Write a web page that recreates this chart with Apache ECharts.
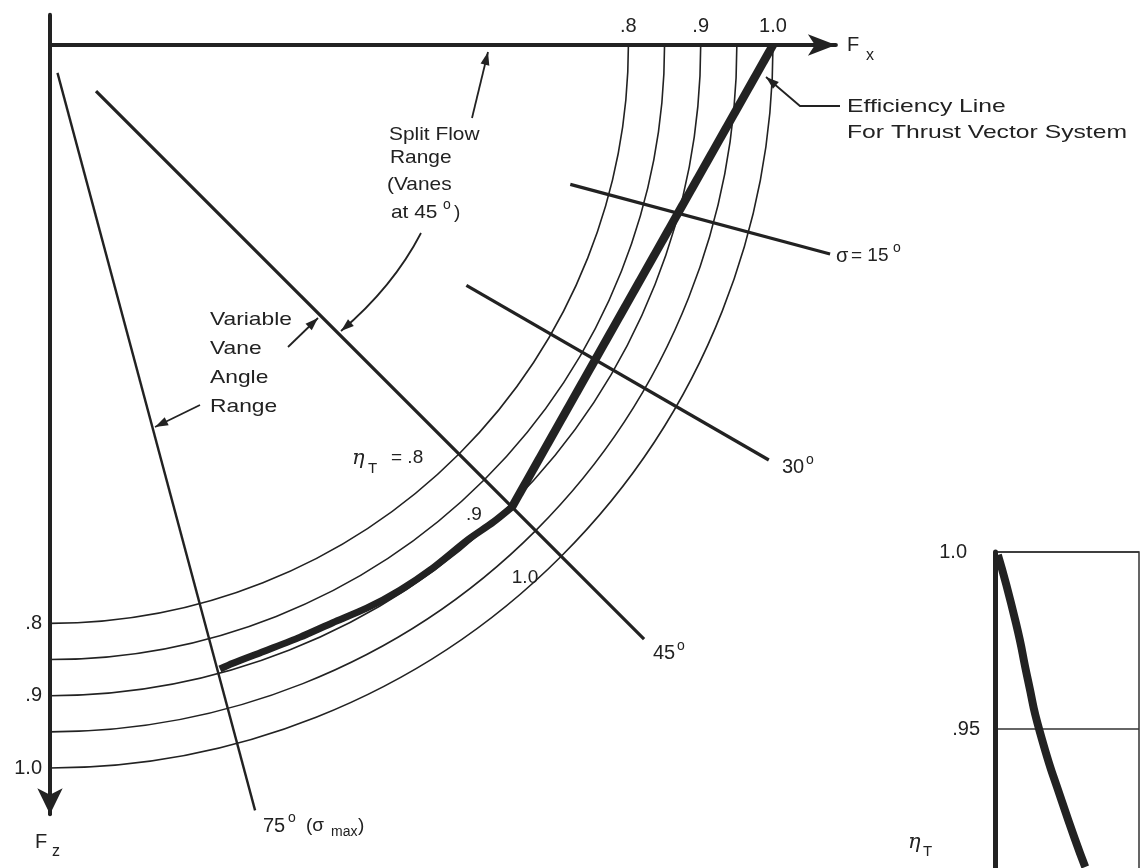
<!DOCTYPE html>
<html>
<head>
<meta charset="utf-8">
<script src="https://cdn.jsdelivr.net/npm/echarts@6/dist/echarts.min.js"></script>
<style>html,body{margin:0;padding:0;background:#fff}#c{width:1140px;height:868px}</style>
</head>
<body>
<div id="c"></div>
<script>
// ---------- data ----------
const etaLevels = [0.80, 0.85, 0.90, 0.95, 1.00];          // iso-efficiency arcs
const axisTickValues = [0.8, 0.9, 1.0];                    // labelled values on Fx and Fz
const sigmaAngles = [15, 30, 45, 75];                      // vane deflection lines (deg)
const sigmaLineStart = [0.745, 0.665, 0.09, 0.04];         // radial extent of each line
const sigmaLineEnd = [1.117, 1.148, 1.162, 1.096];
const splitFx = [1.00, 0.639];                             // split flow range (vanes at 45 deg)
const splitFz = [0.00, 0.639];
const vaneFx = [0.639, 0.613, 0.577, 0.530, 0.484, 0.438, 0.391, 0.346, 0.300, 0.253, 0.235]; // variable vane angle range
const vaneFz = [0.639, 0.660, 0.685, 0.723, 0.754, 0.779, 0.799, 0.819, 0.837, 0.855, 0.863];
const insetSigma = [0.6, 4.35, 6.9, 9.3, 13.9, 18.8];      // inset curve
const insetEta = [0.9992, 0.980, 0.9636, 0.9494, 0.9297, 0.911];

// ---------- layout ----------
const S = 723, OX = 50, OY = 45;
const xExt = -0.052, xMax = 1.087, yExt = -0.042, yMax = 1.064;
const INK = '#222';
const FONT = '"Liberation Sans", Arial, sans-serif';
const SERIF = '"DejaVu Serif", serif';

const chart = echarts.init(document.getElementById('c'), null, {renderer: 'canvas'});

function zip(a, b) { return a.map((v, i) => [v, b[i]]); }
function fmtTick(v) { return Math.abs(v - 1) < 1e-9 ? '1.0' : '.' + String(Math.round(v * 100)).replace(/0$/, ''); }

function T(text, x, y, o) {
  o = o || {};
  return {
    type: 'text', x: x, y: y, scaleX: o.sx || 1, z: 100,
    style: {
      text: text, fill: INK, fontSize: o.fs || 19, fontFamily: o.ff || FONT,
      fontStyle: o.it ? 'italic' : 'normal', fontWeight: o.fw || 'normal',
      align: o.align || 'left', verticalAlign: 'middle',
      textAlign: o.align || 'left', textVerticalAlign: 'middle'
    }
  };
}
function head(px, py, ex, ey) {
  const dx = ex - px, dy = ey - py, L = Math.hypot(dx, dy), ux = dx / L, uy = dy / L;
  const len = 13, w = 4.5, bx = ex - ux * len, by = ey - uy * len;
  return { type: 'polygon', z: 100, shape: { points: [[ex, ey], [bx - uy * w, by + ux * w], [bx + uy * w, by - ux * w]] }, style: { fill: INK } };
}
function arrow(pts) {
  const n = pts.length;
  return [
    { type: 'polyline', z: 100, shape: { points: pts }, style: { stroke: INK, lineWidth: 1.8, fill: null } },
    head(pts[n - 2][0], pts[n - 2][1], pts[n - 1][0], pts[n - 1][1])
  ];
}
function curvedArrow(x1, y1, cx, cy, x2, y2) {
  return [
    { type: 'bezierCurve', z: 100, shape: { x1: x1, y1: y1, cpx1: cx, cpy1: cy, x2: x2, y2: y2 }, style: { stroke: INK, lineWidth: 1.8, fill: null } },
    head(cx, cy, x2, y2)
  ];
}

const radialSeries = sigmaAngles.map((a, i) => {
  const r = a * Math.PI / 180;
  return {
    type: 'line', name: 'sigma ' + a, xAxisIndex: 0, yAxisIndex: 0, symbol: 'none', clip: false, z: 3,
    lineStyle: { color: INK, width: a === 75 ? 2.4 : 3.2 },
    data: [[sigmaLineStart[i] * Math.cos(r), sigmaLineStart[i] * Math.sin(r)],
           [sigmaLineEnd[i] * Math.cos(r), sigmaLineEnd[i] * Math.sin(r)]]
  };
});

const graphics = [].concat(
  // axis names
  T('F', 847, 45, { fs: 20 }), T('x', 866, 56, { fs: 16 }),
  T('F', 35, 842, { fs: 20 }), T('z', 52, 852, { fs: 16 }),
  // efficiency line note
  T('Efficiency Line', 847, 107, { sx: 1.3 }),
  T('For Thrust Vector System', 847, 133, { sx: 1.3 }),
  arrow([[840, 106], [800, 106], [766, 77]]),
  // split flow note
  T('Split Flow', 389, 135, { sx: 1.1 }),
  T('Range', 390, 158, { sx: 1.1 }),
  T('(Vanes', 387, 185, { sx: 1.1 }),
  T('at 45', 391, 213, { sx: 1.1 }), T('o', 443, 205, { fs: 14 }), T(')', 454, 213),
  arrow([[472, 118], [488, 52]]),
  curvedArrow(421, 233, 393, 287, 341, 331),
  // variable vane note
  T('Variable', 210, 320, { sx: 1.2 }),
  T('Vane', 210, 349, { sx: 1.2 }),
  T('Angle', 210, 378, { sx: 1.2 }),
  T('Range', 210, 407, { sx: 1.2 }),
  arrow([[288, 347], [318, 318]]),
  arrow([[200, 405], [155, 427]]),
  // arc labels along 45 deg line
  T('\u03B7', 352, 459, { ff: SERIF, it: true, fs: 21 }), T('T', 368, 469, { fs: 15 }), T('= .8', 391, 458),
  T('.9', 474, 515, { align: 'center' }),
  T('1.0', 525, 578, { align: 'center' }),
  // sigma labels
  T('\u03C3', 836, 256, { fs: 20 }), T('= 15', 851, 256), T('o', 893, 248, { fs: 14 }),
  T('30', 782, 467, { fs: 20 }), T('o', 806, 460, { fs: 14 }),
  T('45', 653, 653, { fs: 20 }), T('o', 677, 646, { fs: 14 }),
  T('75', 263, 826, { fs: 20 }), T('o', 288, 818, { fs: 14 }),
  T('(\u03C3', 306, 826, { fs: 19 }), T('max', 331, 832, { fs: 14 }), T(')', 358, 826, { fs: 19 }),
  // inset axis name
  T('\u03B7', 908, 843, { ff: SERIF, it: true, fs: 21 }), T('T', 923, 852, { fs: 15 })
);

const option = {
  animation: false,
  backgroundColor: '#fff',
  grid: [
    { left: OX, top: OY, width: xMax * S, height: yMax * S, show: false, outerBoundsMode: 'none', containLabel: false },
    { left: 995, top: 552, width: 144, height: 0.15 * 3540, show: true, borderColor: '#333', borderWidth: 1.5,
      backgroundColor: 'transparent', outerBoundsMode: 'none', containLabel: false }
  ],
  xAxis: [
    { type: 'value', gridIndex: 0, min: 0, max: xMax, position: 'top',
      axisLine: { onZero: false, symbol: ['none', 'arrow'], symbolSize: [16, 28], lineStyle: { color: INK, width: 4 } },
      axisTick: { show: false }, splitLine: { show: false },
      axisLabel: { customValues: axisTickValues, formatter: fmtTick, color: INK, fontSize: 20, fontFamily: FONT, margin: 9 } },
    { type: 'value', gridIndex: 1, min: 0, max: 30, show: false }
  ],
  yAxis: [
    { type: 'value', gridIndex: 0, min: 0, max: yMax, inverse: true, position: 'left',
      axisLine: { onZero: false, symbol: ['arrow', 'none'], symbolSize: [19, 26], lineStyle: { color: INK, width: 4 } },
      axisTick: { show: false }, splitLine: { show: false },
      axisLabel: { customValues: axisTickValues, formatter: fmtTick, color: INK, fontSize: 20, fontFamily: FONT, margin: 8 } },
    { type: 'value', gridIndex: 1, min: 0.85, max: 1.0, interval: 0.05,
      axisLine: { show: true, lineStyle: { color: INK, width: 5 } },
      axisTick: { show: false },
      splitLine: { show: true, lineStyle: { color: '#333', width: 1.5 } },
      axisLabel: { color: INK, fontSize: 20, fontFamily: FONT, margin: 15,
        formatter: v => Math.abs(v - 1) < 1e-9 ? '{a|1.0}' : '{b|' + fmtTick(v) + '}',
        rich: { a: { fontSize: 20, fontFamily: FONT, color: INK, padding: [0, 13, 0, 0] }, b: { fontSize: 20, fontFamily: FONT, color: INK } } } }
  ],
  series: [
    { type: 'custom', name: 'eta arcs', xAxisIndex: 0, yAxisIndex: 0, z: 2, clip: false,
      data: etaLevels.map(v => [v]), encode: { x: 0 },
      renderItem: function (params, api) {
        const eta = api.value(0);
        const c = api.coord([0, 0]);
        const e = api.coord([eta, 0]);
        return { type: 'arc', shape: { cx: c[0], cy: c[1], r: e[0] - c[0], startAngle: 0, endAngle: Math.PI / 2, clockwise: true },
                 style: { stroke: INK, lineWidth: 1.6, fill: null } };
      } },
    // short stubs of the Fx and Fz axes beyond the origin
    { type: 'line', name: 'Fx stub', xAxisIndex: 0, yAxisIndex: 0, symbol: 'none', clip: false, z: 4,
      lineStyle: { color: INK, width: 4 }, data: [[xExt, 0], [0, 0]] },
    { type: 'line', name: 'Fz stub', xAxisIndex: 0, yAxisIndex: 0, symbol: 'none', clip: false, z: 4,
      lineStyle: { color: INK, width: 4, cap: 'round' }, data: [[0, yExt], [0, 0.01]] }
  ].concat(radialSeries, [
    { type: 'line', name: 'split flow', xAxisIndex: 0, yAxisIndex: 0, symbol: 'none', clip: false, z: 5,
      lineStyle: { color: INK, width: 8.5 }, data: zip(splitFx, splitFz) },
    { type: 'line', name: 'variable vane', xAxisIndex: 0, yAxisIndex: 0, symbol: 'none', clip: false, z: 5, smooth: 0.25,
      lineStyle: { color: INK, width: 7 }, data: zip(vaneFx, vaneFz) },
    { type: 'line', name: 'inset', xAxisIndex: 1, yAxisIndex: 1, symbol: 'none', clip: false, z: 5, smooth: 0.6,
      lineStyle: { color: INK, width: 8 }, data: zip(insetSigma, insetEta) }
  ]),
  graphic: graphics
};
chart.setOption(option);
</script>
</body>
</html>
